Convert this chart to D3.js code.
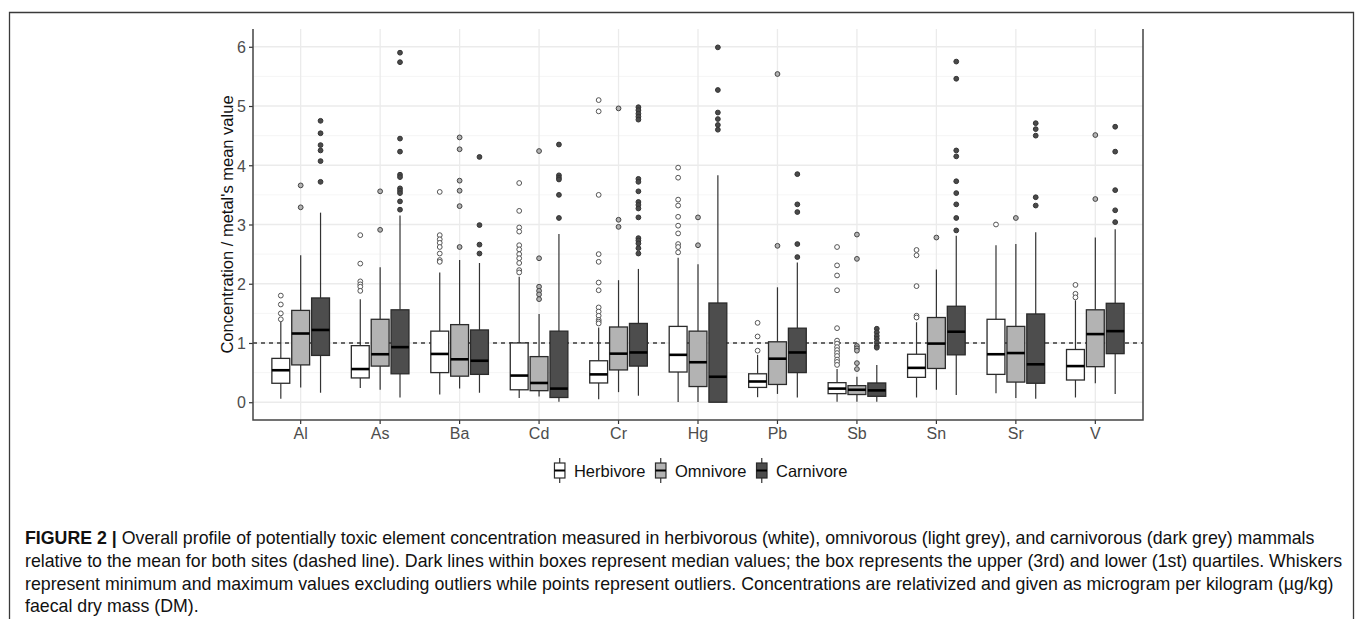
<!DOCTYPE html>
<html>
<head>
<meta charset="utf-8">
<script src="https://cdn.jsdelivr.net/npm/d3@7"></script>
<style>
  html, body { margin: 0; padding: 0; background: #ffffff; }
  svg { display: block; font-family: "Liberation Sans", Arial, Helvetica, sans-serif; }
</style>
</head>
<body>
<script>
// ---------------- DATA ----------------
const elements = ["Al", "As", "Ba", "Cd", "Cr", "Hg", "Pb", "Sb", "Sn", "Sr", "V"];
const diets = ["Herbivore", "Omnivore", "Carnivore"];
const yTicks = [0, 1, 2, 3, 4, 5, 6];
const yMinor = [0.5, 1.5, 2.5, 3.5, 4.5, 5.5];
const meanLine = 1;

// Herbivore
const herbLow = [0.06, 0.24, 0.13, 0.07, 0.05, 0.005, 0.085, 0.01, 0.08, 0.15, 0.08];
const herbQ1  = [0.32, 0.41, 0.50, 0.21, 0.325, 0.51, 0.25, 0.145, 0.42, 0.47, 0.375];
const herbMed = [0.54, 0.56, 0.815, 0.45, 0.47, 0.80, 0.35, 0.23, 0.58, 0.81, 0.61];
const herbQ3  = [0.74, 0.955, 1.20, 1.00, 0.70, 1.28, 0.48, 0.33, 0.81, 1.40, 0.89];
const herbHigh = [1.36, 1.74, 2.19, 2.12, 1.26, 2.44, 0.80, 0.56, 1.35, 2.65, 1.72];
const herbOut = [
  [1.80, 1.65, 1.50, 1.40],
  [2.82, 2.34, 2.04, 1.99, 1.95, 1.88],
  [3.55, 2.82, 2.75, 2.69, 2.62, 2.51, 2.40, 2.37],
  [3.70, 3.23, 2.95, 2.88, 2.65, 2.58, 2.50, 2.43, 2.35, 2.23, 2.19],
  [5.10, 4.91, 3.50, 2.50, 2.37, 2.02, 1.89, 1.60, 1.53, 1.46, 1.39, 1.36, 1.33],
  [3.96, 3.79, 3.42, 3.32, 3.13, 2.98, 2.85, 2.67, 2.62, 2.53],
  [1.34, 1.11, 0.87],
  [2.62, 2.31, 2.14, 1.89, 1.25, 1.04, 0.99, 0.93, 0.88, 0.83, 0.78, 0.72, 0.68, 0.63],
  [2.57, 2.48, 1.96, 1.46, 1.43],
  [3.00],
  [1.98, 1.83, 1.77]
];

// Omnivore
const omniLow = [0.25, 0.21, 0.23, 0.095, 0.17, 0.005, 0.14, 0.01, 0.21, 0.07, 0.32];
const omniQ1  = [0.63, 0.61, 0.44, 0.195, 0.545, 0.265, 0.30, 0.13, 0.57, 0.34, 0.60];
const omniMed = [1.16, 0.81, 0.725, 0.325, 0.82, 0.675, 0.735, 0.21, 0.99, 0.83, 1.15];
const omniQ3  = [1.55, 1.40, 1.31, 0.77, 1.27, 1.20, 1.02, 0.28, 1.43, 1.28, 1.56];
const omniHigh = [2.48, 2.28, 2.40, 1.49, 2.06, 2.33, 1.94, 0.43, 2.24, 2.67, 2.78];
const omniOut = [
  [3.66, 3.29],
  [3.56, 2.91],
  [4.47, 4.27, 3.74, 3.57, 3.31, 2.62],
  [4.24, 2.43, 1.95, 1.88, 1.82, 1.74],
  [4.96, 3.08, 2.96],
  [3.12, 2.65],
  [5.54, 2.64],
  [2.83, 2.42, 0.95, 0.91, 0.87, 0.66, 0.56],
  [2.78],
  [3.11],
  [4.51, 3.43]
];

// Carnivore
const carnLow = [0.16, 0.08, 0.16, 0.01, 0.11, 0.0, 0.08, 0.01, 0.12, 0.06, 0.14];
const carnQ1  = [0.79, 0.48, 0.47, 0.08, 0.61, 0.0, 0.50, 0.10, 0.80, 0.32, 0.82];
const carnMed = [1.22, 0.93, 0.70, 0.23, 0.84, 0.43, 0.84, 0.20, 1.19, 0.64, 1.20];
const carnQ3  = [1.76, 1.56, 1.22, 1.20, 1.33, 1.675, 1.25, 0.325, 1.62, 1.49, 1.67];
const carnHigh = [3.20, 3.15, 2.35, 2.84, 2.25, 3.83, 2.36, 0.63, 2.81, 2.87, 2.92];
const carnOut = [
  [4.75, 4.54, 4.34, 4.25, 4.07, 3.72],
  [5.90, 5.74, 4.45, 4.23, 3.84, 3.80, 3.61, 3.57, 3.53, 3.39, 3.25],
  [4.14, 2.99, 2.66, 2.51],
  [4.35, 3.83, 3.79, 3.76, 3.50, 3.11],
  [4.98, 4.93, 4.87, 4.82, 4.77, 3.77, 3.72, 3.56, 3.38, 3.33, 3.27, 3.12, 2.77, 2.73, 2.68, 2.60, 2.51],
  [5.99, 5.27, 4.89, 4.78, 4.68, 4.60],
  [3.85, 3.34, 3.21, 2.67, 2.45],
  [1.24, 1.18, 1.12, 1.07, 1.01, 0.95, 0.92],
  [5.75, 5.46, 4.25, 4.15, 3.73, 3.53, 3.34, 3.11, 2.90],
  [4.71, 4.61, 4.50, 3.46, 3.32],
  [4.65, 4.23, 3.58, 3.24, 3.04]
];

const yTitle = "Concentration / metal's mean value";
const captionBold = "FIGURE 2 |";
const captionLines = [
  " Overall profile of potentially toxic element concentration measured in herbivorous (white), omnivorous (light grey), and carnivorous (dark grey) mammals",
  "relative to the mean for both sites (dashed line). Dark lines within boxes represent median values; the box represents the upper (3rd) and lower (1st) quartiles. Whiskers",
  "represent minimum and maximum values excluding outliers while points represent outliers. Concentrations are relativized and given as microgram per kilogram (µg/kg)",
  "faecal dry mass (DM)."
];

// ---------------- STYLE ----------------
const fills = { Herbivore: "#ffffff", Omnivore: "#b3b3b3", Carnivore: "#4d4d4d" };
const ptFill = { Herbivore: "#ffffff", Omnivore: "#b3b3b3", Carnivore: "#4a4a4a" };
const ptStroke = { Herbivore: "#555555", Omnivore: "#444444", Carnivore: "#333333" };

// ---------------- BUILD TABLE ----------------
const stats = {
  Herbivore: { low: herbLow, q1: herbQ1, med: herbMed, q3: herbQ3, high: herbHigh, out: herbOut },
  Omnivore:  { low: omniLow, q1: omniQ1, med: omniMed, q3: omniQ3, high: omniHigh, out: omniOut },
  Carnivore: { low: carnLow, q1: carnQ1, med: carnMed, q3: carnQ3, high: carnHigh, out: carnOut }
};
const rows = [];
elements.forEach((e, i) => diets.forEach(d => {
  const s = stats[d];
  rows.push({ el: e, diet: d, low: s.low[i], q1: s.q1[i], med: s.med[i], q3: s.q3[i], high: s.high[i], out: s.out[i] });
}));

// ---------------- LAYOUT ----------------
const W = 1355, H = 619;
const P = { left: 253, right: 1143, top: 29, bottom: 420 };

const svg = d3.select("body").append("svg").attr("width", W).attr("height", H);

const x = d3.scaleBand().domain(elements).range([P.left, P.right]).paddingInner(0).paddingOuter(0.1);
const step = x.step();
const xc = e => x(e) + x.bandwidth() / 2;
const xd = d3.scaleBand().domain(diets).range([-0.375 * step, 0.375 * step]);
const boxW = xd.bandwidth() * 0.9;
const xDiet = (e, d) => xc(e) + xd(d) + xd.bandwidth() / 2;

const y = d3.scaleLinear().domain([-0.3, 6.3]).range([P.bottom, P.top]);

// outer frame
svg.append("path")
  .attr("d", `M9.5,${H} V12.5 H1353.5 V${H}`)
  .attr("fill", "none").attr("stroke", "#3a3a3a").attr("stroke-width", 1.3);

// grid
const g = svg.append("g");
g.selectAll("line.minor").data(yMinor).join("line")
  .attr("x1", P.left).attr("x2", P.right)
  .attr("y1", d => y(d)).attr("y2", d => y(d))
  .attr("stroke", "#f3f3f3").attr("stroke-width", 0.8);
g.selectAll("line.majy").data(yTicks).join("line")
  .attr("x1", P.left).attr("x2", P.right)
  .attr("y1", d => y(d)).attr("y2", d => y(d))
  .attr("stroke", "#ebebeb").attr("stroke-width", 1.3);
g.selectAll("line.majx").data(elements).join("line")
  .attr("x1", d => xc(d)).attr("x2", d => xc(d))
  .attr("y1", P.top).attr("y2", P.bottom)
  .attr("stroke", "#ebebeb").attr("stroke-width", 1.3);

// dashed mean line
svg.append("line")
  .attr("x1", P.left).attr("x2", P.right)
  .attr("y1", y(meanLine)).attr("y2", y(meanLine))
  .attr("stroke", "#3a3a3a").attr("stroke-width", 1.3)
  .attr("stroke-dasharray", "4,4");

// boxplots
const bx = svg.append("g");
const grp = bx.selectAll("g.box").data(rows).join("g");
// whiskers
grp.append("line")
  .attr("x1", d => xDiet(d.el, d.diet)).attr("x2", d => xDiet(d.el, d.diet))
  .attr("y1", d => y(d.q3)).attr("y2", d => y(d.high))
  .attr("stroke", "#333").attr("stroke-width", 1.2);
grp.append("line")
  .attr("x1", d => xDiet(d.el, d.diet)).attr("x2", d => xDiet(d.el, d.diet))
  .attr("y1", d => y(d.q1)).attr("y2", d => y(d.low))
  .attr("stroke", "#333").attr("stroke-width", 1.2);
// box
grp.append("rect")
  .attr("x", d => xDiet(d.el, d.diet) - boxW / 2)
  .attr("width", boxW)
  .attr("y", d => y(d.q3))
  .attr("height", d => Math.max(0, y(d.q1) - y(d.q3)))
  .attr("fill", d => fills[d.diet])
  .attr("stroke", "#2b2b2b").attr("stroke-width", 1.3);
// median
grp.append("line")
  .attr("x1", d => xDiet(d.el, d.diet) - boxW / 2).attr("x2", d => xDiet(d.el, d.diet) + boxW / 2)
  .attr("y1", d => y(d.med)).attr("y2", d => y(d.med))
  .attr("stroke", "#000").attr("stroke-width", 2.6);
// outliers
grp.selectAll("circle").data(d => d.out.map(v => ({ v, el: d.el, diet: d.diet }))).join("circle")
  .attr("cx", d => xDiet(d.el, d.diet))
  .attr("cy", d => y(d.v))
  .attr("r", 2.4)
  .attr("fill", d => ptFill[d.diet])
  .attr("stroke", d => ptStroke[d.diet]).attr("stroke-width", 1);

// axes
const axL = svg.append("g").attr("transform", `translate(${P.left},0)`)
  .call(d3.axisLeft(y).tickValues(yTicks).tickSize(4).tickPadding(3).tickFormat(d3.format("d")));
const axB = svg.append("g").attr("transform", `translate(0,${P.bottom})`)
  .call(d3.axisBottom(x).tickSize(4).tickPadding(4));
[axL, axB].forEach(a => {
  a.select(".domain").remove();
  a.selectAll(".tick line").attr("stroke", "#333").attr("stroke-width", 1.2);
  a.selectAll(".tick text").attr("fill", "#4d4d4d").style("font-size", "16px")
    .style("font-family", "'Liberation Sans', Arial, sans-serif");
});
axL.selectAll(".tick text").attr("dy", "0.36em");

// panel lines (left, bottom, right)
svg.append("path")
  .attr("d", `M${P.left},${P.top} V${P.bottom} H${P.right} V${P.top}`)
  .attr("fill", "none").attr("stroke", "#444").attr("stroke-width", 1.5);

// y title
svg.append("text")
  .attr("transform", `translate(233,${(P.top + P.bottom) / 2}) rotate(-90)`)
  .attr("text-anchor", "middle")
  .attr("fill", "#111")
  .style("font-size", "16.5px")
  .text(yTitle);

// legend
const leg = svg.append("g");
const legY = 470.5;
const keyW = 10.5, keyGap = 9, itemGap = 10;
const items = diets.map(d => {
  const t = leg.append("text").attr("y", legY + 6).style("font-size", "16.5px").attr("fill", "#111").text(d);
  return { d, t, w: t.node().getComputedTextLength() };
});
const totalW = d3.sum(items, it => keyW + keyGap + it.w) + itemGap * (items.length - 1);
let lx = (P.left + P.right) / 2 - totalW / 2 + 3;
items.forEach(it => {
  const cx = lx + keyW / 2;
  leg.append("line").attr("x1", cx).attr("x2", cx).attr("y1", legY - 12.5).attr("y2", legY + 12.5)
    .attr("stroke", "#333").attr("stroke-width", 1.2);
  leg.append("rect").attr("x", lx).attr("y", legY - 7.5).attr("width", keyW).attr("height", 15)
    .attr("fill", fills[it.d]).attr("stroke", "#2b2b2b").attr("stroke-width", 1.2);
  leg.append("line").attr("x1", lx).attr("x2", lx + keyW).attr("y1", legY).attr("y2", legY)
    .attr("stroke", "#000").attr("stroke-width", 2);
  it.t.attr("x", lx + keyW + keyGap);
  lx += keyW + keyGap + it.w + itemGap;
});

// caption
const cap = svg.append("g");
const capX = 25;
const capBase = [544, 567, 590, 612];
let capSize = 15.5;
const lines = captionLines.map((ln, i) => {
  const t = cap.append("text").attr("x", capX).attr("y", capBase[i]).attr("fill", "#111");
  if (i === 0) t.append("tspan").attr("font-weight", "bold").text(captionBold);
  t.append("tspan").text(ln);
  return t;
});
lines.forEach(t => t.style("font-size", capSize + "px"));
const l2 = lines[1].node().getComputedTextLength();
capSize = capSize * 1318 / l2;
lines.forEach(t => t.style("font-size", capSize.toFixed(2) + "px"));
</script>
</body>
</html>
